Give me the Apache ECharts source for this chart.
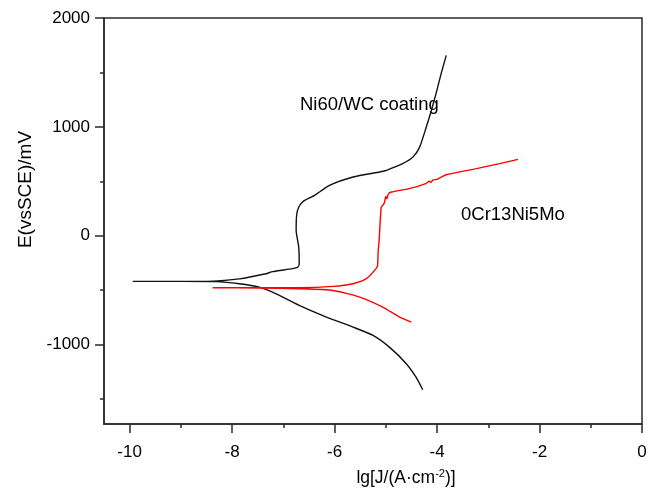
<!DOCTYPE html>
<html>
<head>
<meta charset="utf-8">
<script src="https://cdn.jsdelivr.net/npm/echarts@6/dist/echarts.min.js"></script>
<style>
  html, body { margin: 0; padding: 0; background: #fff; }
  #chart { width: 654px; height: 491px; }
</style>
</head>
<body>
<div id="chart"></div>
<script>
// Potentiodynamic polarization curves, scan order: cathodic end -> Ecorr -> anodic end
// Ni60/WC coating
const coatingLgJ = [-4.28, -4.41, -4.60, -4.93, -5.25, -5.64, -6.16, -6.69, -7.21, -7.47, -7.86, -8.31, -9.00, -9.94,
  -8.50, -7.86, -7.34, -7.21, -6.82, -6.72, -6.69, -6.70, -6.75, -6.74, -6.70, -6.62, -6.50, -6.39, -6.10, -5.64, -5.12,
  -5.05, -4.99, -4.67, -4.47, -4.34, -4.21, -4.11, -4.02, -3.92, -3.82];
const coatingE = [-1415, -1300, -1176, -1024, -916, -840, -748, -641, -518, -472, -441, -422, -420, -420,
  -420, -397, -350, -330, -303, -290, -257, -105, 49, 190, 262, 312, 345, 370, 462, 539, 585,
  592, 600, 662, 722, 814, 998, 1152, 1305, 1489, 1657];

// 0Cr13Ni5Mo steel
const steelLgJ = [-4.50, -4.73, -5.06, -5.51, -6.03, -6.69, -7.47, -8.38,
  -7.47, -6.69, -6.03, -5.64, -5.38, -5.19, -5.16, -5.15, -5.13, -5.09, -5.06, -5.03, -5.00, -4.98, -4.95,
  -4.89, -4.54, -4.22, -4.15, -4.12, -4.08, -4.00, -3.82, -3.23, -2.78, -2.42];
const steelE = [-794, -748, -656, -564, -503, -487, -480, -478,
  -478, -478, -466, -441, -395, -303, -270, -150, -40, 263, 278, 300, 360, 340, 385,
  401, 432, 478, 500, 490, 512, 518, 560, 616, 662, 701];

// Axis ticks
const xMajorTicks = [-10, -8, -6, -4, -2, 0];
const xMinorTicks = [-9, -7, -5, -3, -1];
const yMajorTicks = [-1000, 0, 1000, 2000];
const yMinorTicks = [-1500, -500, 500, 1500];

const seriesNames = ['Ni60/WC coating', '0Cr13Ni5Mo'];

const pairs = (xs, ys) => xs.map((x, i) => [x, ys[i]]);

const FONT = 'Liberation Sans, Arial, sans-serif';
const AXIS_COLOR = '#2a2a2a';

const chart = echarts.init(document.getElementById('chart'), null, { renderer: 'canvas' });

const xRange = { min: -10.5, max: 0 };
const yRange = { min: -1730, max: 2000 };

chart.setOption({
  animation: false,
  backgroundColor: '#fff',
  grid: {
    left: 104, right: 12, top: 18, bottom: 67,
    show: true, borderColor: AXIS_COLOR, borderWidth: 1.5,
    containLabel: false, outerBoundsMode: 'none'
  },
  xAxis: [
    {
      type: 'value', ...xRange, position: 'bottom',
      name: '{a|lg[J/(A·cm}{b|-2}{a|)]}',
      nameLocation: 'middle', nameGap: 44,
      nameTextStyle: {
        padding: [0, 0, 0, 66],
        rich: {
          a: { fontSize: 17.5, fontFamily: FONT, color: '#000', lineHeight: 20 },
          b: { fontSize: 11, fontFamily: FONT, color: '#000', verticalAlign: 'top', lineHeight: 20 }
        }
      },
      axisLine: { show: true, onZero: false, lineStyle: { color: AXIS_COLOR, width: 1.5 } },
      axisTick: { show: true, customValues: xMajorTicks, length: 9, lineStyle: { color: AXIS_COLOR, width: 1.5 } },
      axisLabel: { customValues: xMajorTicks, margin: 20, fontSize: 17, fontFamily: FONT, color: '#000',
        formatter: v => String(v) },
      splitLine: { show: false }
    },
    {
      type: 'value', ...xRange, position: 'bottom',
      axisLine: { show: false, onZero: false },
      axisTick: { show: true, customValues: xMinorTicks, length: 4, lineStyle: { color: AXIS_COLOR, width: 1.5 } },
      axisLabel: { show: false },
      splitLine: { show: false }
    }
  ],
  yAxis: [
    {
      type: 'value', ...yRange, position: 'left',
      name: 'E(vsSCE)/mV',
      nameLocation: 'middle', nameRotate: 90, nameGap: 57,
      nameTextStyle: { fontSize: 19, fontFamily: FONT, color: '#000', padding: [0, 0, 0, 63] },
      axisLine: { show: true, onZero: false, lineStyle: { color: AXIS_COLOR, width: 1.5 } },
      axisTick: { show: true, customValues: yMajorTicks, length: 9, lineStyle: { color: AXIS_COLOR, width: 1.5 } },
      axisLabel: { customValues: yMajorTicks, margin: 14, fontSize: 17, fontFamily: FONT, color: '#000',
        formatter: v => String(v) },
      splitLine: { show: false }
    },
    {
      type: 'value', ...yRange, position: 'left',
      axisLine: { show: false, onZero: false },
      axisTick: { show: true, customValues: yMinorTicks, length: 4, lineStyle: { color: AXIS_COLOR, width: 1.5 } },
      axisLabel: { show: false },
      splitLine: { show: false }
    }
  ],
  series: [
    {
      name: seriesNames[0], type: 'line', xAxisIndex: 0, yAxisIndex: 0,
      data: pairs(coatingLgJ, coatingE),
      showSymbol: false, symbol: 'none', smooth: 0.2,
      lineStyle: { color: '#111', width: 1.4 }
    },
    {
      name: seriesNames[1], type: 'line', xAxisIndex: 0, yAxisIndex: 0,
      data: pairs(steelLgJ, steelE),
      showSymbol: false, symbol: 'none', smooth: 0.2,
      lineStyle: { color: '#ff0000', width: 1.4 }
    }
  ],
  graphic: [
    { type: 'text', left: 300, top: 95, style: { text: seriesNames[0], fontSize: 18.5, fontFamily: FONT, fill: '#000' } },
    { type: 'text', left: 461, top: 205, style: { text: seriesNames[1], fontSize: 18.5, fontFamily: FONT, fill: '#000' } }
  ]
});
</script>
</body>
</html>
